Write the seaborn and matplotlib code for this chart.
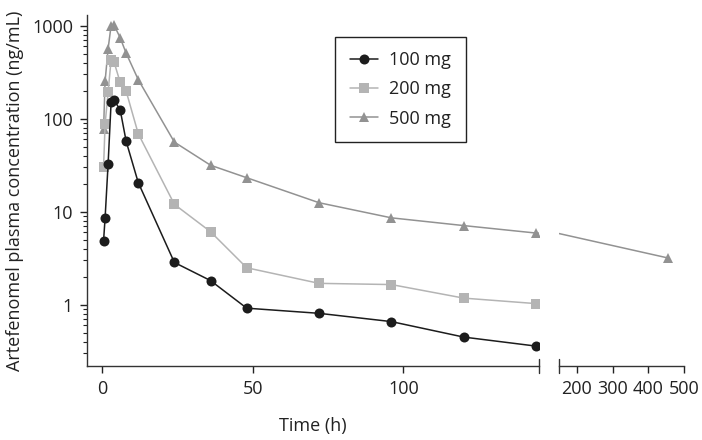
import numpy as np
import pandas as pd
import matplotlib
matplotlib.use("Agg")
import matplotlib.pyplot as plt
from matplotlib.lines import Line2D
from matplotlib.ticker import FixedLocator, FuncFormatter, LogLocator, NullFormatter
import seaborn as sns

# ---- data ----
times_100 = [0.5, 1, 2, 3, 4, 6, 8, 12, 24, 36, 48, 72, 96, 120, 144]
conc_100 = [4.9, 8.5, 32.5, 150, 157, 125, 57, 20.6, 2.85, 1.82, 0.92, 0.81, 0.66, 0.45, 0.36]
times_200 = [0.5, 1, 2, 3, 4, 6, 8, 12, 24, 36, 48, 72, 96, 120, 144]
conc_200 = [30, 87, 192, 430, 404, 246, 197, 69, 12.0, 6.1, 2.5, 1.7, 1.65, 1.18, 1.03]
times_500 = [0.5, 1, 2, 3, 4, 6, 8, 12, 24, 36, 48, 72, 96, 120, 144, 456]
conc_500 = [77, 251, 563, 1000, 1010, 741, 505, 263, 56, 31.6, 23.2, 12.5, 8.6, 7.1, 5.9, 3.18]
doses = ["100 mg", "200 mg", "500 mg"]
left_xticks = [0, 50, 100]
right_xticks = [200, 300, 400, 500]
yticks = [1, 10, 100, 1000]
left_xlim = (-5, 145)
right_xlim = (150, 500)

colors = {"100 mg": "#1c1c1c", "200 mg": "#b4b4b4", "500 mg": "#929292"}
markers = {"100 mg": "o", "200 mg": "s", "500 mg": "^"}
msize = {"100 mg": 7.2, "200 mg": 6.8, "500 mg": 7.6}
series_times = {"100 mg": times_100, "200 mg": times_200, "500 mg": times_500}

df = pd.concat([
    pd.DataFrame({"time": times_100, "conc": conc_100, "dose": doses[0]}),
    pd.DataFrame({"time": times_200, "conc": conc_200, "dose": doses[1]}),
    pd.DataFrame({"time": times_500, "conc": conc_500, "dose": doses[2]}),
], ignore_index=True)

sns.set_style("ticks")
plt.rcParams["font.family"] = ["Open Sans", "DejaVu Sans"]
txt = "#222222"
plt.rcParams.update({
    "text.color": txt, "axes.labelcolor": txt,
    "xtick.color": txt, "ytick.color": txt,
    "axes.edgecolor": "#333333",
})

fig = plt.figure(figsize=(7.02, 4.40), dpi=100)
bottom = 1 - 366 / 440
height = 351 / 440
ax1 = fig.add_axes([87 / 702, bottom, 452 / 702, height])
ax2 = fig.add_axes([559 / 702, bottom, 125 / 702, height])

for ax, xlim in ((ax1, left_xlim), (ax2, right_xlim)):
    sns.lineplot(data=df, x="time", y="conc", hue="dose", style="dose",
                 hue_order=doses, style_order=doses, palette=colors,
                 markers=markers, dashes=False, estimator=None, errorbar=None,
                 linewidth=1.1, markeredgewidth=0, legend=False, ax=ax)
    for line, d in zip(ax.lines, doses):
        line.set_markersize(msize[d])
        line.set_zorder({"100 mg": 3.2, "200 mg": 2.8, "500 mg": 2.6}[d])
        # only show markers that fall inside this panel's x-range
        idx = [i for i, t in enumerate(sorted(series_times[d])) if xlim[0] <= t <= xlim[1]]
        line.set_markevery(idx)
    ax.set_yscale("log")
    ax.set_ylim(0.22, 1300)
    ax.set_xlim(*xlim)
    ax.set_xlabel("")
    ax.set_ylabel("")
    for s in ("top", "right"):
        ax.spines[s].set_visible(False)
    ax.spines["bottom"].set_linewidth(1.0)
    ax.spines["left"].set_linewidth(1.0)
    ax.tick_params(axis="both", which="major", labelsize=13, length=5, width=1.0, pad=5)
    ax.tick_params(axis="y", which="minor", length=3, width=0.8)

ax1.xaxis.set_major_locator(FixedLocator(left_xticks))
ax1.yaxis.set_major_locator(FixedLocator(yticks))
ax1.yaxis.set_major_formatter(FuncFormatter(lambda v, p: f"{v:g}"))
ax1.yaxis.set_minor_locator(LogLocator(base=10, subs=np.arange(2, 10), numticks=20))
ax1.yaxis.set_minor_formatter(NullFormatter())
ax1.set_xlabel("Time (h)", fontsize=13, labelpad=14)
ax1.set_ylabel("Artefenomel plasma concentration (ng/mL)", fontsize=13, labelpad=6)

ax2.xaxis.set_major_locator(FixedLocator(right_xticks))
ax2.spines["left"].set_visible(False)
ax2.tick_params(axis="y", which="both", left=False, labelleft=False)

# axis-break bars
ax1.plot([1, 1], [-0.02, 0.02], transform=ax1.transAxes, color="#333333", lw=1.0, clip_on=False)
ax2.plot([0, 0], [-0.02, 0.02], transform=ax2.transAxes, color="#333333", lw=1.0, clip_on=False)

handles = [Line2D([], [], color=colors[d], marker=markers[d], markersize=msize[d],
                  markeredgewidth=0, linewidth=1.1) for d in doses]
leg = ax1.legend(handles, doses, loc="upper left", bbox_to_anchor=(0.549, 0.938),
                 frameon=True, fancybox=False, edgecolor="#222222", framealpha=1,
                 borderpad=0.8, handlelength=1.6, handletextpad=0.6,
                 labelspacing=0.62, fontsize=13, borderaxespad=0)
leg.get_frame().set_linewidth(1.0)

fig.savefig("out.png", dpi=100)
